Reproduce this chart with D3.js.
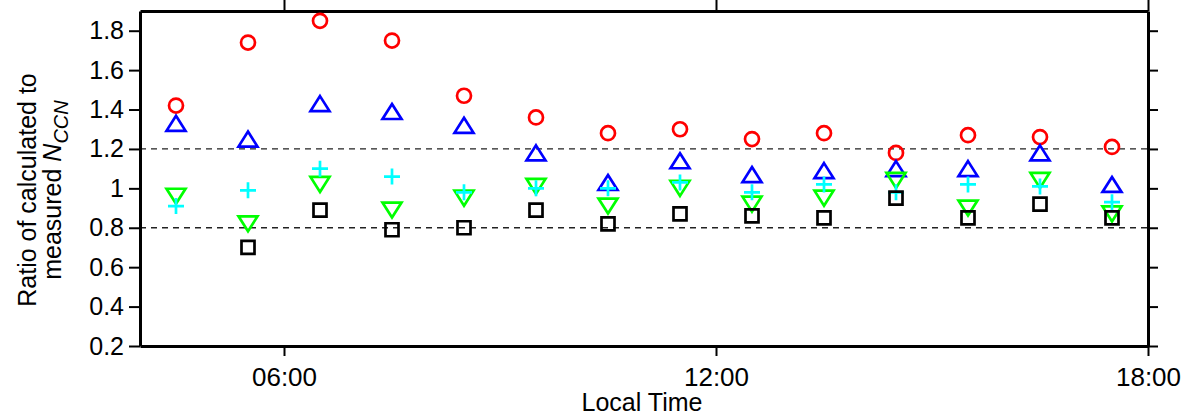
<!DOCTYPE html>
<html>
<head>
<meta charset="utf-8">
<script src="https://cdn.jsdelivr.net/npm/d3@7"></script>
<style>
  body { margin: 0; background: #fff; }
  svg { display: block; font-family: Arial, "Liberation Sans", sans-serif; }
</style>
</head>
<body>
<svg id="chart" width="1186" height="417"></svg>
<script>
// hours (local time) of each sample
const hours = [4.5, 5.5, 6.5, 7.5, 8.5, 9.5, 10.5, 11.5, 12.5, 13.5, 14.5, 15.5, 16.5, 17.5];

// ratio of calculated to measured N_CCN, one array per marker series
const redCircle   = [1.42, 1.74, 1.85, 1.75, 1.47, 1.36, 1.28, 1.30, 1.25, 1.28, 1.18, 1.27, 1.26, 1.21];
const blueUp      = [1.33, 1.25, 1.43, 1.39, 1.32, 1.18, 1.03, 1.14, 1.07, 1.09, 1.10, 1.10, 1.18, 1.02];
const cyanPlus    = [0.91, 0.99, 1.10, 1.06, 0.98, 1.00, 1.00, 1.03, 0.98, 1.02, 0.98, 1.02, 1.01, 0.93];
const greenDown   = [0.96, 0.82, 1.02, 0.89, 0.95, 1.01, 0.91, 1.00, 0.92, 0.95, 1.04, 0.90, 1.04, 0.87];
const blackSquare = [null, 0.70, 0.89, 0.79, 0.80, 0.89, 0.82, 0.87, 0.86, 0.85, 0.95, 0.85, 0.92, 0.85];

const yTicks = [0.2, 0.4, 0.6, 0.8, 1.0, 1.2, 1.4, 1.6, 1.8];
const xTicks = [6, 12, 18];
const refLines = [0.8, 1.2];

const svg = d3.select("#chart");

const plotLeft = 140, plotRight = 1148, plotTop = 11, plotBottom = 346;

const x = d3.scaleLinear().domain([4, 18]).range([plotLeft, plotRight]);
const y = d3.scaleLinear().domain([0.2, 1.9]).range([plotBottom, plotTop]);

// dashed reference lines
svg.selectAll(".ref")
    .data(refLines)
    .enter()
    .append("line")
    .attr("class", "ref")
    .attr("x1", plotLeft).attr("x2", plotRight)
    .attr("y1", d => y(d)).attr("y2", d => y(d))
    .attr("stroke", "#222")
    .attr("stroke-width", 1.3)
    .attr("stroke-dasharray", "6,5");

// axes
const fmtTime = d => String(d).padStart(2, "0") + ":00";

const gLeft = svg.append("g")
    .attr("transform", `translate(${plotLeft},0)`)
    .call(d3.axisLeft(y).tickValues(yTicks).tickSize(11).tickSizeOuter(0).tickPadding(5).tickFormat(d3.format("~g")));

const gRight = svg.append("g")
    .attr("transform", `translate(${plotRight},0)`)
    .call(d3.axisRight(y).tickValues(yTicks).tickSize(10).tickSizeOuter(0).tickFormat(""));

const gBottom = svg.append("g")
    .attr("transform", `translate(0,${plotBottom})`)
    .call(d3.axisBottom(x).tickValues(xTicks).tickSize(10).tickSizeOuter(0).tickPadding(12).tickFormat(fmtTime));

const gTop = svg.append("g")
    .attr("transform", `translate(0,${plotTop})`)
    .call(d3.axisTop(x).tickValues(xTicks).tickSize(12).tickSizeOuter(0).tickFormat(""));

[gLeft, gRight, gBottom, gTop].forEach(g => {
    g.select(".domain").attr("stroke", "#000").attr("stroke-width", 3);
    g.selectAll(".tick line").attr("stroke", "#000").attr("stroke-width", 2);
    g.selectAll(".tick text").attr("fill", "#000").attr("font-family", "Arial, 'Liberation Sans', sans-serif");
});
gLeft.selectAll(".tick text").attr("font-size", 25);
gBottom.selectAll(".tick text").attr("font-size", 26);

// axis titles
svg.append("text")
    .attr("x", 642).attr("y", 411)
    .attr("text-anchor", "middle")
    .attr("font-size", 25)
    .text("Local Time");

svg.append("text")
    .attr("transform", "translate(36,190) rotate(-90)")
    .attr("text-anchor", "middle")
    .attr("font-size", 25)
    .text("Ratio of calculated to");

const line2 = svg.append("text")
    .attr("transform", "translate(61,190) rotate(-90)")
    .attr("text-anchor", "middle")
    .attr("font-size", 25);
line2.append("tspan").text("measured ");
line2.append("tspan").attr("font-style", "italic").text("N");
line2.append("tspan").attr("font-style", "italic").attr("font-size", 20).attr("dy", 7).text("CCN");

// markers
function markerPath(shape) {
    return d => {
        const p = d3.path();
        const cx = x(d.h), cy = y(d.v);
        if (shape === "circle") {
            p.moveTo(cx + 7, cy);
            p.arc(cx, cy, 7, 0, 2 * Math.PI);
        } else if (shape === "up") {
            p.moveTo(cx, cy - 7.5);
            p.lineTo(cx + 9.5, cy + 7.5);
            p.lineTo(cx - 9.5, cy + 7.5);
            p.closePath();
        } else if (shape === "down") {
            p.moveTo(cx, cy + 7.5);
            p.lineTo(cx + 9.5, cy - 7.5);
            p.lineTo(cx - 9.5, cy - 7.5);
            p.closePath();
        } else if (shape === "square") {
            p.rect(cx - 6.5, cy - 6.5, 13, 13);
        } else if (shape === "plus") {
            p.moveTo(cx - 8, cy); p.lineTo(cx + 8, cy);
            p.moveTo(cx, cy - 8); p.lineTo(cx, cy + 8);
        }
        return p.toString();
    };
}

const series = [
    { values: redCircle,   shape: "circle", color: "#ff0000" },
    { values: blueUp,      shape: "up",     color: "#0000ff" },
    { values: greenDown,   shape: "down",   color: "#00ff00" },
    { values: cyanPlus,    shape: "plus",   color: "#00ffff" },
    { values: blackSquare, shape: "square", color: "#000000" }
];

series.forEach(s => {
    const pts = hours.map((h, i) => ({ h, v: s.values[i] })).filter(d => d.v != null);
    svg.append("g")
        .selectAll("path")
        .data(pts)
        .enter()
        .append("path")
        .attr("d", markerPath(s.shape))
        .attr("fill", "none")
        .attr("stroke", s.color)
        .attr("stroke-width", 2.7);
});
</script>
</body>
</html>
